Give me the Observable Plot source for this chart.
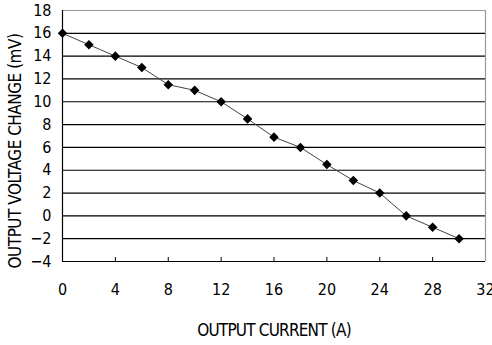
<!DOCTYPE html>
<html>
<head>
<meta charset="utf-8">
<script src="https://cdn.jsdelivr.net/npm/d3@7"></script>
<script src="https://cdn.jsdelivr.net/npm/@observablehq/plot@0.6"></script>
<style>
  html, body { margin: 0; padding: 0; background: #fff; }
</style>
</head>
<body>
<div id="chart"></div>
<script>
const current = [0, 2, 4, 6, 8, 10, 12, 14, 16, 18, 20, 22, 24, 26, 28, 30];
const voltage = [16, 15, 14, 13, 11.5, 11, 10, 8.5, 6.9, 6, 4.5, 3.1, 2, 0, -1, -2];
const xTicks = [0, 4, 8, 12, 16, 20, 24, 28, 32];
const yTicks = [-4, -2, 0, 2, 4, 6, 8, 10, 12, 14, 16, 18];
const xLabel = "OUTPUT CURRENT (A)";
const yLabel = "OUTPUT VOLTAGE CHANGE (mV)";

const data = current.map((c, i) => ({current: c, voltage: voltage[i]}));
const xMin = xTicks[0], xMax = xTicks[xTicks.length - 1];
const yMin = yTicks[0], yMax = yTicks[yTicks.length - 1];
const innerGrid = yTicks.filter(d => d > yMin && d < yMax);

const chart = Plot.plot({
  width: 492,
  height: 345,
  marginLeft: 62,
  marginRight: 7,
  marginTop: 10,
  marginBottom: 84,
  x: {type: "linear", domain: [xMin, xMax]},
  y: {type: "linear", domain: [yMin, yMax]},
  style: {fontFamily: "'Liberation Sans Narrow', 'DejaVu Sans Condensed', sans-serif", fontSize: "16px", color: "#000", background: "#fff"},
  marks: [
    Plot.ruleY(innerGrid, {stroke: "#000", strokeWidth: 1.2}),
    Plot.ruleY([yMax], {stroke: "#999", strokeWidth: 1.2}),
    Plot.ruleX([xMax], {stroke: "#999", strokeWidth: 1.2}),
    Plot.ruleX([xMin], {stroke: "#000", strokeWidth: 1.2}),
    Plot.ruleY([yMin], {stroke: "#000", strokeWidth: 1.2}),
    Plot.ruleX(xTicks.filter(d => d > xMin && d < xMax), {x: d => d, y1: yMin, y2: yMin, insetTop: -4, stroke: "#000", strokeWidth: 1}),
    Plot.axisX({ticks: xTicks, tickSize: 0, tickPadding: 22, label: xLabel, labelAnchor: "center", labelOffset: 74, labelArrow: "none"}),
    Plot.axisY({ticks: yTicks, tickSize: 0, tickPadding: 11, label: yLabel, labelAnchor: "center", labelOffset: 54, labelArrow: "none"}),
    Plot.line(data, {x: "current", y: "voltage", stroke: "#444", strokeWidth: 1}),
    Plot.dot(data, {x: "current", y: "voltage", symbol: "diamond2", fill: "#000", stroke: "none", r: 4.3})
  ]
});
document.getElementById("chart").appendChild(chart);
d3.select(chart).selectAll('[aria-label="x-axis label"] text').style("font-size", "17px").style("letter-spacing", "-0.8px");
d3.select(chart).selectAll('[aria-label="y-axis label"] text').style("font-size", "17px").style("letter-spacing", "-0.5px").attr("dx", "-15");
</script>
</body>
</html>
